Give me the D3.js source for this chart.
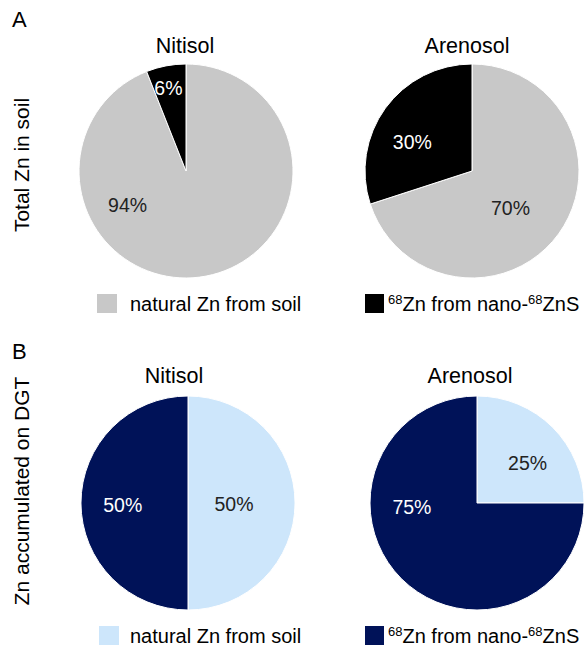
<!DOCTYPE html>
<html lang="en">
  <head>
    <meta charset="UTF-8" />
    <title>Zn source pies</title>
    <style>
      body {
        margin: 0;
        padding: 0;
        background: #fff;
      }
      svg text {
        font-family: "Liberation Sans", Arial, sans-serif;
      }
    </style>
  </head>
  <body>
    <svg id="chart"></svg>
    <script src="https://cdn.jsdelivr.net/npm/d3@7"></script>
    <script>
      const width = 585;
      const height = 650;

      // data
      const soils = ["Nitisol", "Arenosol"];
      const sources = ["natural Zn from soil", "68Zn from nano-68ZnS"];
      const totalZn = [
        [94, 6],
        [70, 30]
      ];
      const dgtZn = [
        [50, 50],
        [25, 75]
      ];

      // label placement per slice: [angle deg clockwise from top, fraction of radius]
      const labelPosA = [
        [[240, 0.63], [348, 0.79]],
        [[134, 0.5], [296, 0.62]]
      ];
      const labelPosB = [
        [[92, 0.43], [268, 0.61]],
        [[52, 0.6], [266, 0.61]]
      ];

      const panels = [
        {
          letter: "A",
          ylabel: "Total Zn in soil",
          values: totalZn,
          labels: labelPosA,
          colors: ["#c8c8c8", "#000000"],
          textColors: ["#222", "#fff"],
          top: 0,
          pieX: [186, 472],
          titleX: [185, 467],
          titleY: 53,
          ylabelY: 165,
          legendX: [97, 365]
        },
        {
          letter: "B",
          ylabel: "Zn accumulated on DGT",
          values: dgtZn,
          labels: labelPosB,
          colors: ["#cde6fb", "#001258"],
          textColors: ["#222", "#fff"],
          top: 332,
          pieX: [188, 477],
          titleX: [174, 470],
          titleY: 51,
          ylabelY: 159,
          legendX: [99, 365]
        }
      ];

      const svg = d3.select("#chart").attr("width", width).attr("height", height);

      const radius = 107;
      const cy = 171;

      const pie = d3.pie().sort(null).value((d) => d);
      const arc = d3.arc().innerRadius(0).outerRadius(radius);

      panels.forEach(function (p) {
        const g = svg.append("g").attr("transform", "translate(0," + p.top + ")");
        const x = d3.scalePoint().domain(soils).range(p.pieX);

        g.append("text")
          .attr("x", 12)
          .attr("y", 27)
          .attr("font-size", 22)
          .text(p.letter);

        g.append("text")
          .attr("transform", "translate(29," + p.ylabelY + ") rotate(-90)")
          .attr("text-anchor", "middle")
          .attr("font-size", 21)
          .text(p.ylabel);

        soils.forEach(function (soil, i) {
          const cx = x(soil);
          const pg = g.append("g").attr("transform", "translate(" + cx + "," + cy + ")");

          g.append("text")
            .attr("x", p.titleX[i])
            .attr("y", p.titleY)
            .attr("text-anchor", "middle")
            .attr("font-size", 21.5)
            .text(soil);

          const arcs = pie(p.values[i]);

          pg.selectAll("path")
            .data(arcs)
            .enter()
            .append("path")
            .attr("d", arc)
            .attr("fill", (d, j) => p.colors[j])
            .attr("stroke", "#fff")
            .attr("stroke-width", 1);

          pg.selectAll("text")
            .data(arcs)
            .enter()
            .append("text")
            .attr("x", (d, j) => Math.sin((p.labels[i][j][0] * Math.PI) / 180) * p.labels[i][j][1] * radius)
            .attr("y", (d, j) => -Math.cos((p.labels[i][j][0] * Math.PI) / 180) * p.labels[i][j][1] * radius)
            .attr("dy", "0.35em")
            .attr("text-anchor", "middle")
            .attr("font-size", 19.5)
            .attr("fill", (d, j) => p.textColors[j])
            .text((d) => d.data + "%");
        });

        // legend
        sources.forEach(function (s, j) {
          g.append("rect")
            .attr("x", p.legendX[j])
            .attr("y", 294)
            .attr("width", j === 0 ? 20 : 19)
            .attr("height", 19)
            .attr("fill", p.colors[j]);

          const t = g.append("text")
            .attr("x", j === 0 ? 130 : 388)
            .attr("y", 311)
            .attr("font-size", 20);

          const parts = s.split("68");
          parts.forEach(function (part, k) {
            if (k > 0) {
              t.append("tspan").attr("font-size", 13).attr("dy", -7).text("68");
              t.append("tspan").attr("dy", 7).text(part);
            } else if (part) {
              t.append("tspan").text(part);
            }
          });
        });
      });
    </script>
  </body>
</html>
